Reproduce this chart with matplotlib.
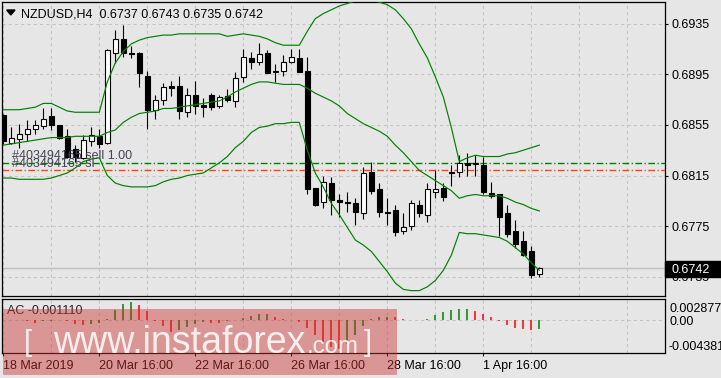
import numpy as np
import matplotlib.pyplot as plt
from matplotlib.patches import Rectangle, Polygon

plt.rcParams['font.family'] = ['Liberation Sans', 'DejaVu Sans']

# ---- data (NZDUSD H4, 68 bars) ----
symbol = 'NZDUSD,H4'
last_ohlc = [0.6737, 0.6743, 0.6735, 0.6742]

o = [0.6863, 0.6841, 0.6844, 0.6848, 0.6852, 0.6854, 0.6862, 0.6855, 0.6846, 0.6836,
     0.6829, 0.6842, 0.6846, 0.6841, 0.6912, 0.6923, 0.6912, 0.6912, 0.6894, 0.6867,
     0.6875, 0.6886, 0.6886, 0.6865, 0.6879, 0.6871, 0.6879, 0.6870, 0.6878, 0.6874,
     0.6893, 0.6908, 0.6905, 0.6912, 0.6898, 0.6898, 0.6905, 0.6908, 0.6898, 0.6805,
     0.6794, 0.6809, 0.6796, 0.6794, 0.6793, 0.6785, 0.6818, 0.6804, 0.6786, 0.6788,
     0.6771, 0.6775, 0.6792, 0.6784, 0.6802, 0.6805, 0.6818, 0.6818, 0.6825, 0.6825,
     0.6823, 0.6801, 0.6800, 0.6785, 0.6771, 0.6763, 0.6755, 0.6737]
h = [0.6864, 0.6853, 0.6856, 0.6859, 0.6859, 0.6868, 0.6868, 0.6855, 0.6852, 0.6839,
     0.6847, 0.6853, 0.6852, 0.6915, 0.6930, 0.6934, 0.6917, 0.6913, 0.6898, 0.6879,
     0.6888, 0.6890, 0.6894, 0.6884, 0.6890, 0.6876, 0.6880, 0.6879, 0.6883, 0.6897,
     0.6915, 0.6913, 0.6920, 0.6914, 0.6903, 0.6910, 0.6915, 0.6915, 0.6909, 0.6805,
     0.6815, 0.6814, 0.6800, 0.6802, 0.6797, 0.6822, 0.6826, 0.6809, 0.6797, 0.6792,
     0.6785, 0.6796, 0.6796, 0.6809, 0.6819, 0.6809, 0.6823, 0.6831, 0.6833, 0.6831,
     0.6830, 0.6810, 0.6800, 0.6792, 0.6780, 0.6771, 0.6759, 0.6743]
l = [0.6840, 0.6840, 0.6837, 0.6842, 0.6848, 0.6852, 0.6851, 0.6844, 0.6829, 0.6826,
     0.6828, 0.6838, 0.6837, 0.6840, 0.6904, 0.6909, 0.6908, 0.6885, 0.6852, 0.6860,
     0.6871, 0.6878, 0.6860, 0.6861, 0.6864, 0.6861, 0.6867, 0.6868, 0.6873, 0.6869,
     0.6889, 0.6899, 0.6902, 0.6896, 0.6889, 0.6894, 0.6904, 0.6897, 0.6800, 0.6791,
     0.6789, 0.6784, 0.6782, 0.6786, 0.6776, 0.6781, 0.6800, 0.6782, 0.6776, 0.6767,
     0.6769, 0.6772, 0.6782, 0.6778, 0.6797, 0.6795, 0.6807, 0.6814, 0.6815, 0.6815,
     0.6800, 0.6797, 0.6767, 0.6766, 0.6758, 0.6751, 0.6734, 0.6735]
c = [0.6842, 0.6845, 0.6848, 0.6852, 0.6855, 0.6860, 0.6855, 0.6845, 0.6830, 0.6830,
     0.6843, 0.6847, 0.6840, 0.6914, 0.6923, 0.6912, 0.6911, 0.6896, 0.6867, 0.6875,
     0.6885, 0.6884, 0.6866, 0.6879, 0.6870, 0.6869, 0.6869, 0.6877, 0.6875, 0.6892,
     0.6909, 0.6905, 0.6911, 0.6896, 0.6897, 0.6905, 0.6909, 0.6897, 0.6804, 0.6792,
     0.6810, 0.6796, 0.6794, 0.6793, 0.6786, 0.6817, 0.6803, 0.6786, 0.6785, 0.6770,
     0.6774, 0.6793, 0.6785, 0.6804, 0.6804, 0.6798, 0.6817, 0.6825, 0.6823, 0.6824,
     0.6802, 0.6799, 0.6782, 0.6769, 0.6761, 0.6752, 0.6736, 0.6742]

bb_up = [0.6867, 0.6867, 0.6867, 0.6868, 0.6869, 0.6872, 0.6872, 0.6869, 0.6866, 0.6865,
         0.6865, 0.6865, 0.6865, 0.6889, 0.6904, 0.6913, 0.6919, 0.6922, 0.6924, 0.6925,
         0.6926, 0.6926, 0.6927, 0.6927, 0.6927, 0.6927, 0.6927, 0.6927, 0.6925, 0.6926,
         0.6927, 0.6926, 0.6925, 0.6923, 0.6920, 0.6918, 0.6918, 0.6918, 0.6929, 0.6939,
         0.6943, 0.6946, 0.6949, 0.6951, 0.6953, 0.6955, 0.6955, 0.6952, 0.6950, 0.6946,
         0.6939, 0.6931, 0.6919, 0.6908, 0.6893, 0.6877, 0.6853, 0.6826, 0.6829, 0.6831,
         0.6830, 0.6830, 0.6830, 0.6832, 0.6833, 0.6835, 0.6837, 0.6839]
bb_mid = [0.6839, 0.6840, 0.6841, 0.6842, 0.6843, 0.6844, 0.6845, 0.6845, 0.6845, 0.6846,
          0.6846, 0.6846, 0.6846, 0.6849, 0.6851, 0.6857, 0.6861, 0.6864, 0.6865, 0.6866,
          0.6868, 0.6868, 0.6869, 0.6870, 0.6871, 0.6872, 0.6873, 0.6874, 0.6877, 0.6881,
          0.6884, 0.6887, 0.6889, 0.6889, 0.6888, 0.6887, 0.6887, 0.6887, 0.6884, 0.6880,
          0.6877, 0.6874, 0.6870, 0.6864, 0.6860, 0.6856, 0.6853, 0.6850, 0.6846, 0.6839,
          0.6833, 0.6826, 0.6819, 0.6815, 0.6811, 0.6807, 0.6803, 0.6797, 0.6799, 0.6800,
          0.6799, 0.6799, 0.6799, 0.6797, 0.6794, 0.6792, 0.6789, 0.6787]
bb_low = [0.6813, 0.6813, 0.6812, 0.6812, 0.6812, 0.6812, 0.6813, 0.6815, 0.6817, 0.6821,
          0.6826, 0.6828, 0.6829, 0.6815, 0.6809, 0.6807, 0.6806, 0.6806, 0.6806, 0.6807,
          0.6810, 0.6812, 0.6813, 0.6815, 0.6816, 0.6817, 0.6821, 0.6825, 0.6830, 0.6837,
          0.6842, 0.6849, 0.6853, 0.6854, 0.6856, 0.6856, 0.6857, 0.6857, 0.6835, 0.6817,
          0.6806, 0.6793, 0.6784, 0.6774, 0.6764, 0.6760, 0.6755, 0.6747, 0.6739, 0.6730,
          0.6725, 0.6724, 0.6724, 0.6727, 0.6732, 0.6740, 0.6752, 0.6770, 0.6769, 0.6769,
          0.6768, 0.6767, 0.6766, 0.6763, 0.6758, 0.6753, 0.6746, 0.6740]

ac = [0.00004, 0.00002, 0.00001, -0.00012, -0.00030, -0.00008, -0.00004, -0.00002, -0.00005, -0.00044,
      -0.00058, -0.00052, -0.00040, 0.00022, 0.00133, 0.00222, 0.00244, 0.00208, 0.00120, -0.00015,
      -0.00080, -0.00155, -0.00125, -0.00090, -0.00050, -0.00025, -0.00030, -0.00032, -0.00015, 0.00005,
      0.00032, 0.00056, 0.00079, 0.00081, 0.00051, 0.00012, 0.00002, -0.00020, -0.00102, -0.00197,
      -0.00288, -0.00354, -0.00377, -0.00310, -0.00199, -0.00075, 0.00013, 0.00040, 0.00044, 0.00040,
      0.00012, 0.00004, 0.00001, 0.00013, 0.00073, 0.00113, 0.00140, 0.00146, 0.00147, 0.00120,
      0.00089, 0.00044, -0.00009, -0.00060, -0.00104, -0.00113, -0.00130, -0.00111]
ac_max, ac_min = 0.002877, -0.004381

order_price = 0.6825
sl_price = 0.6819
order_label = '#403494165 sell 1.00'
sl_label = '#403494165 sl'

price_ticks = [0.6735, 0.6775, 0.6815, 0.6855, 0.6895, 0.6935]
date_labels = ['18 Mar 2019', '20 Mar 16:00', '22 Mar 16:00', '26 Mar 16:00',
               '28 Mar 16:00', '1 Apr 16:00']

# ---- layout in pixels ----
W, H = 721, 378
bg = '#e6e6e6'
grid_kw = dict(color='#c4c4c4', ls=(0, (3, 3)), lw=0.75)


def box(x0, y0, x1, y1):
    return [x0 / W, 1 - y1 / H, (x1 - x0) / W, (y1 - y0) / H]


def fp(x, y):
    return (x / W, 1 - y / H)


fig = plt.figure(figsize=(W / 100, H / 100), dpi=100, facecolor=bg)
ax = fig.add_axes(box(2, 1.5, 664.7, 296))
ax2 = fig.add_axes(box(2, 298.7, 664.7, 353.3))
xlim = (-0.16, 82.67)

for a in (ax, ax2):
    a.set_facecolor(bg)
    a.set_xlim(*xlim)
    for s in a.spines.values():
        s.set_linewidth(0.9)
        s.set_color('black')

n = len(c)
x = np.arange(n)

# candles
ax.vlines(x, l, h, color='black', lw=0.8, zorder=3)
for i in range(n):
    lo_, hi_ = min(o[i], c[i]), max(o[i], c[i])
    face = 'white' if c[i] > o[i] else 'black'
    ax.add_patch(Rectangle((x[i] - 0.28, lo_), 0.56, hi_ - lo_, facecolor=face,
                           edgecolor='black', lw=0.8, zorder=4))

# bollinger bands
for band in (bb_up, bb_mid, bb_low):
    ax.plot(x, band, color='#008000', lw=0.85, zorder=5)

# order / stop loss levels
ax.axhline(order_price, color='#008000', lw=1.0, ls=(0, (4.8, 1.8, 0.9, 1.8)), zorder=2)
ax.axhline(sl_price, color='#ff4500', lw=1.0, ls=(0, (4.8, 1.8, 0.9, 1.8)), zorder=2)
ax.axhline(last_ohlc[3], color='#c0c0c0', lw=1.0, zorder=1)
ax.text(1.05, 0.68278, order_label, fontsize=9, color='#444455', va='baseline', zorder=6)
ax.text(1.05, 0.68220, sl_label, fontsize=9, color='#444455', va='baseline', zorder=6)

ax.set_ylim(0.671975, 0.695255)
ax.set_yticks(price_ticks)
ax.set_yticklabels(['%.4f' % p for p in price_ticks])
ax.yaxis.tick_right()
ax.tick_params(axis='y', length=2.2, width=0.8, pad=2.9, labelsize=9, colors='black')
ax.set_xticks(np.arange(0, 83, 6))
ax.tick_params(axis='x', length=0, labelbottom=False)
ax.grid(True, **grid_kw)
ax.set_axisbelow(True)

# AC indicator
ac = np.array(ac)
cols = np.where(np.diff(ac, prepend=ac[0]) > 0, '#008000', '#ff0000')
ax2.vlines(x, 0, ac, colors=cols, lw=1.1, zorder=3)
ax2.set_ylim(ac_min, ac_max)
ax2.set_yticks([0])
ax2.set_yticklabels(['0.00'])
ax2.yaxis.tick_right()
ax2.tick_params(axis='y', length=0, pad=3.3, labelsize=9)
ax2.set_xticks(np.arange(0, 61, 12))
ax2.set_xticklabels(date_labels, ha='left')
ax2.set_xticks(np.arange(6, 83, 12), minor=True)
ax2.tick_params(axis='x', which='major', direction='out', length=2.2, width=0.8, pad=2.6, labelsize=9)
ax2.tick_params(axis='x', which='minor', length=0)
ax2.grid(True, which='both', **grid_kw)
ax2.set_axisbelow(True)

fig.text(*fp(7.3, 313.5), 'AC -0.001110', fontsize=9, va='baseline', color='#222222')
fig.text(*fp(669.3, 311.7), '%.6f' % ac_max, fontsize=9, va='baseline')
fig.text(*fp(668.3, 350), '%.6f' % ac_min, fontsize=9, va='baseline')

# header
fig.add_artist(Polygon([fp(6.7, 10), fp(15, 10), fp(10.8, 15)], closed=True,
                       transform=fig.transFigure, color='black'))
fig.text(*fp(20.7, 17.3), '%s  %.4f %.4f %.4f %.4f' % (symbol, *last_ohlc),
         fontsize=9, va='baseline')

# current price box
fig.add_artist(Rectangle(fp(665, 276.7), 56 / W, 16 / H, transform=fig.transFigure,
                         color='black', zorder=4))
fig.text(*fp(671.7, 273.3), '%.4f' % last_ohlc[3], fontsize=9, color='white',
         va='baseline', zorder=5)

# watermark
fig.add_artist(Rectangle(fp(2.7, 375), 394 / W, 65.7 / H, transform=fig.transFigure,
                         color='#cc3333', alpha=0.45, lw=0, zorder=6))
wm = dict(color='white', alpha=0.85, va='baseline', zorder=7, family='Liberation Sans')
fig.text(*fp(24, 351), '[', fontsize=21, **wm)
fig.text(*fp(53, 353), 'www.instaforex', fontsize=27, **wm)
fig.text(*fp(307, 353), '.com', fontsize=17.3, **wm)
fig.text(*fp(364, 351), ']', fontsize=21, **wm)

fig.savefig('out.png', dpi=100, facecolor=bg)
